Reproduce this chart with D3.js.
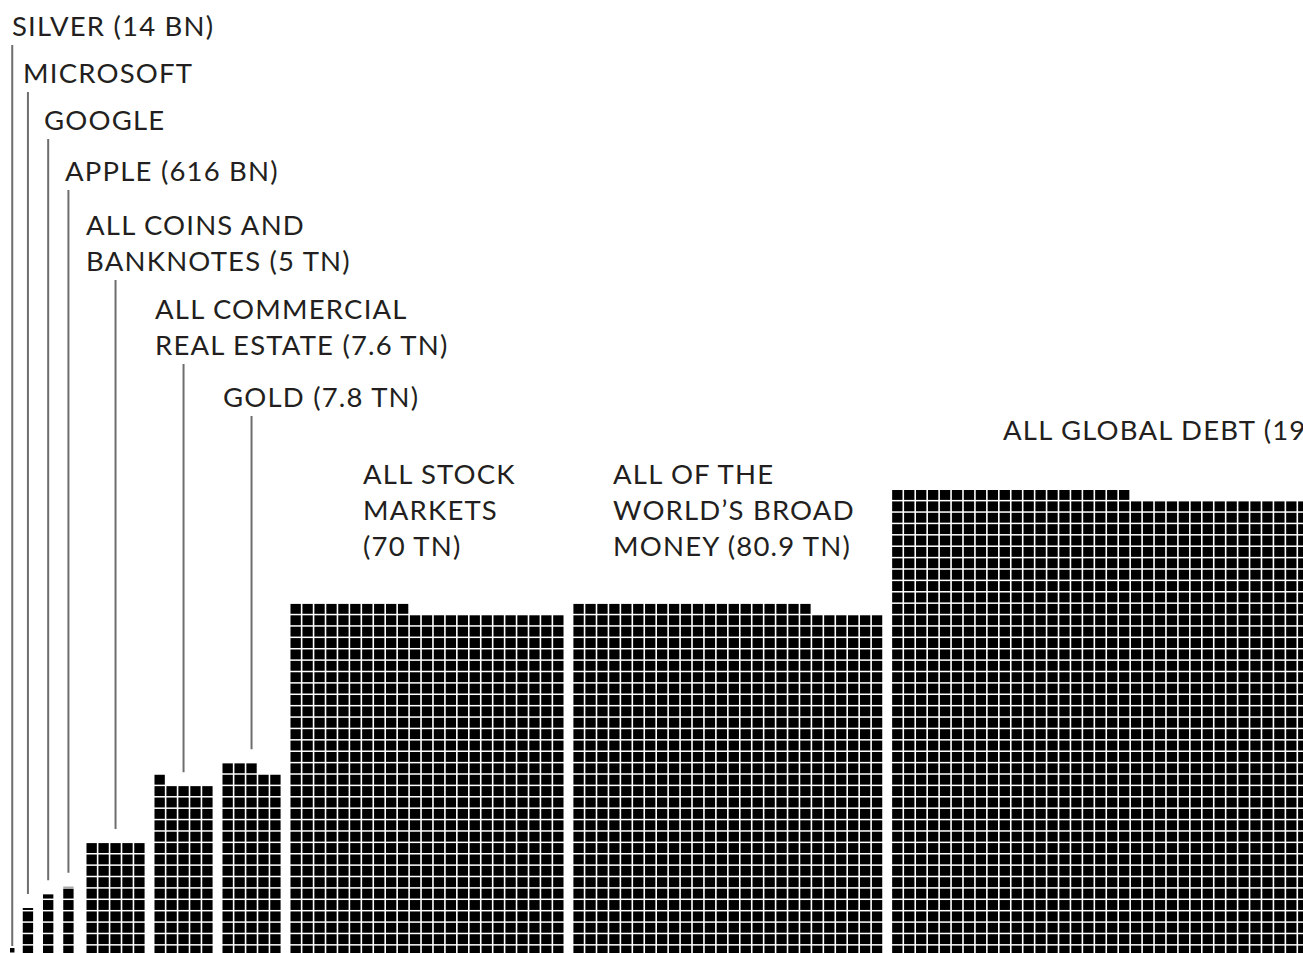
<!DOCTYPE html>
<html>
<head>
<meta charset="utf-8">
<script src="https://cdnjs.cloudflare.com/ajax/libs/d3/7.8.5/d3.min.js"></script>
<style>
  html, body { margin: 0; padding: 0; background: #ffffff; }
  svg { display: block; }
</style>
</head>
<body>
<svg id="chart" width="1303" height="953"></svg>
<script>
// ---------------- DATA ----------------
const categories = [
  "Silver", "Microsoft", "Google", "Apple", "All coins and banknotes",
  "All commercial real estate", "Gold", "All stock markets",
  "All of the world's broad money", "All global debt"
];
// label text lines as printed in the chart
const labelLines = [
  ["SILVER (14 BN)"],
  ["MICROSOFT"],
  ["GOOGLE"],
  ["APPLE (616 BN)"],
  ["ALL COINS AND", "BANKNOTES (5 TN)"],
  ["ALL COMMERCIAL", "REAL ESTATE (7.6 TN)"],
  ["GOLD (7.8 TN)"],
  ["ALL STOCK", "MARKETS", "(70 TN)"],
  ["ALL OF THE", "WORLD\u2019S BROAD", "MONEY (80.9 TN)"],
  ["ALL GLOBAL DEBT (199 TN)"]
];
// number of 100-billion cells drawn for each item
const cellCounts = [0.14, 4.3, 5.5, 6.16, 50, 76, 83, 700, 800, 1980];
// number of grid columns per block
const blockColumns = [1, 1, 1, 1, 5, 5, 5, 23, 26, 49];

// ---------------- LAYOUT ----------------
const W = 1303, H = 953;
const xPitch = 11.94, yPitch = 11.39;
const cellGapX = 1.6, cellGapY = 1.5;
const blockGap = 8.3;
const baseY = 957;

// x in "column units", y in "row units"
const x = d3.scaleLinear().domain([0, 1]).range([0, xPitch]);
const y = d3.scaleLinear().domain([0, 1]).range([baseY, baseY - yPitch]);

// label placement (layout only)
const labelX = [12, 23, 44, 65, 86, 155, 223, 363, 613, 1003];
const labelY = [36, 83, 130, 181, 235, 319, 407, 484, 484, 440];
const lineHeight = 36;
const hasLeader = [true, true, true, true, true, true, true, false, false, false];

// compute block start positions
const blockWidthUnits = cellCounts.map((c, i) => i === 0 ? Math.sqrt(c) : blockColumns[i]);
const starts = [];
let cur = 10;
blockWidthUnits.forEach((wu, i) => {
  starts.push(cur);
  cur += x(wu) + blockGap + (i === 3 ? 3 : 0);
});

const svg = d3.select("#chart");
svg.append("rect").attr("width", W).attr("height", H).attr("fill", "#ffffff");

const gCells = svg.append("g");

categories.forEach((cat, i) => {
  const count = cellCounts[i];
  const cols = blockColumns[i];
  const cells = [];
  if (i === 0) {
    const side = x(Math.sqrt(count));
    cells.push({ x: starts[i], y: y(0) - cellGapY - side - 3, w: side, h: side });
  } else {
    const full = Math.floor(count);
    for (let k = 0; k < full; k++) {
      const r = Math.floor(k / cols), c = k % cols;
      cells.push({
        x: starts[i] + x(c),
        y: y(r + 1),
        w: x(1) - cellGapX,
        h: y(r) - y(r + 1) - cellGapY
      });
    }
    const frac = count - full;
    if (frac > 0.001) {
      const r = Math.floor(full / cols), c = full % cols;
      const top = y(r + frac);
      const h = Math.max(0.5, y(r) - cellGapY - top);
      cells.push({ x: starts[i] + x(c), y: top, w: x(1) - cellGapX, h: h });
    }
  }
  gCells.selectAll(null)
    .data(cells)
    .enter()
    .append("rect")
    .attr("x", d => d.x)
    .attr("y", d => d.y)
    .attr("width", d => d.w)
    .attr("height", d => d.h)
    .attr("fill", "#000000");
});

// leader lines
const gLines = svg.append("g");
categories.forEach((cat, i) => {
  if (!hasLeader[i]) return;
  const cols = blockColumns[i];
  const count = cellCounts[i];
  let cx, topRows;
  if (i === 0) {
    const side = x(Math.sqrt(count));
    cx = starts[i] + side / 2;
    topRows = (side + cellGapY + 3) / yPitch;
  } else {
    const centerCol = Math.floor(cols / 2);
    cx = starts[i] + (x(cols) - cellGapX) / 2;
    if (cols === 1) topRows = count;
    else topRows = Math.floor(count / cols) + ((count % cols) > centerCol ? 1 : 0);
  }
  const lastBaseline = labelY[i] + (labelLines[i].length - 1) * lineHeight;
  gLines.append("line")
    .attr("x1", cx).attr("x2", cx)
    .attr("y1", lastBaseline + 9)
    .attr("y2", y(topRows) - (i === 0 ? 2 : 14))
    .attr("stroke", "#6e6e6e")
    .attr("stroke-width", 2);
});

// labels
const gLabels = svg.append("g")
  .attr("font-family", "Lato, 'Noto Sans', sans-serif")
  .attr("font-size", 27.5)
  .attr("letter-spacing", 1.2)
  .attr("fill", "#231f20");
categories.forEach((cat, i) => {
  const t = gLabels.append("text")
    .attr("x", labelX[i])
    .attr("y", labelY[i]);
  labelLines[i].forEach((ln, j) => {
    t.append("tspan")
      .attr("x", labelX[i])
      .attr("dy", j === 0 ? 0 : lineHeight)
      .text(ln);
  });
});
</script>
</body>
</html>
